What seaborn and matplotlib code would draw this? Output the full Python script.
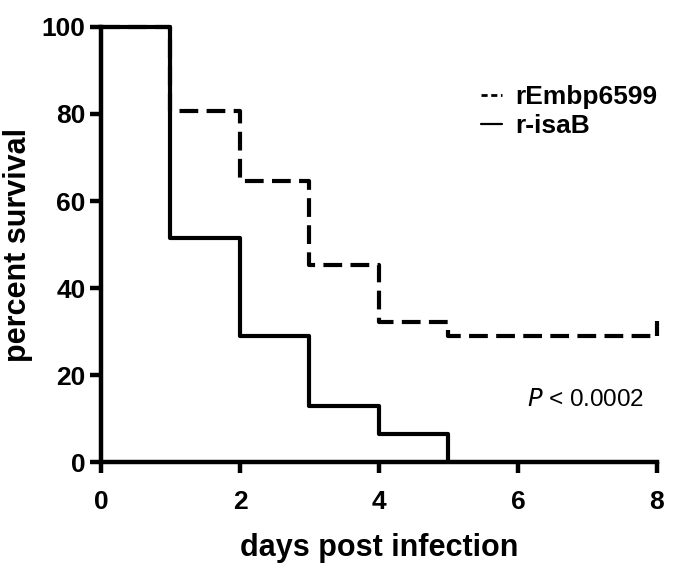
import matplotlib
matplotlib.use("Agg")
import matplotlib.pyplot as plt
from matplotlib.lines import Line2D
import seaborn as sns
import pandas as pd

# survival data (percent)
days_emb = [0, 1, 2, 3, 4, 5, 8]
surv_emb = [100, 80.6, 64.5, 45.2, 32.3, 29.0, 29.0]
days_isa = [0, 1, 2, 3, 4, 5]
surv_isa = [100, 51.6, 29.0, 12.9, 6.5, 0]
groups = ["rEmbp6599", "r-isaB"]
x_ticks = [0, 2, 4, 6, 8]
y_ticks = [0, 20, 40, 60, 80, 100]

df = pd.concat([
    pd.DataFrame({"day": days_emb, "survival": surv_emb, "group": groups[0]}),
    pd.DataFrame({"day": days_isa, "survival": surv_isa, "group": groups[1]}),
])

sns.set_style("white")
plt.rcParams["font.family"] = ["Liberation Sans", "DejaVu Sans"]
plt.rcParams.update({"text.color": "black", "axes.labelcolor": "black",
                     "xtick.color": "black", "ytick.color": "black"})

fig = plt.figure(figsize=(6.75, 5.74), dpi=100)
ax = fig.add_axes([0.1496, 0.195, 0.8237, 0.758])

sns.lineplot(data=df, x="day", y="survival", style="group", hue="group",
             palette={groups[0]: "black", groups[1]: "black"},
             dashes={groups[0]: (4.5, 2.0), groups[1]: ""},
             estimator=None, sort=False, drawstyle="steps-post",
             linewidth=3.0, legend=False, ax=ax, clip_on=False, zorder=3)

# censor mark at end of dashed curve
ax.plot([days_emb[-1]], [surv_emb[-1]], marker=2, markersize=11,
        markeredgewidth=3.0, color="black", clip_on=False, zorder=4)

ax.set_xlim(0, 8)
ax.set_ylim(0, 100)
ax.set_xticks(x_ticks)
ax.set_yticks(y_ticks)
for s in ["top", "right"]:
    ax.spines[s].set_visible(False)
for s in ["left", "bottom"]:
    ax.spines[s].set_linewidth(3.2)
    ax.spines[s].set_color("black")
ax.tick_params(axis="both", direction="out", length=8, width=3.2,
               color="black", labelcolor="black", labelsize=19, pad=3,
               bottom=True, left=True)
ax.tick_params(axis="x", pad=12)
for lab in ax.get_xticklabels() + ax.get_yticklabels():
    lab.set_fontweight("bold")

ax.set_xlabel("days post infection", fontsize=22, fontweight="bold", labelpad=14)
ax.set_ylabel("percent survival", fontsize=22, fontweight="bold", labelpad=6)

handles = [Line2D([], [], color="black", lw=2.0, dashes=(2.2, 1.3)),
           Line2D([], [], color="black", lw=1.6)]
ax.legend(handles, groups, loc="upper left", bbox_to_anchor=(0.66, 0.897),
          frameon=False, handlelength=0.8, handletextpad=0.5, borderpad=0,
          labelspacing=0.2, prop={"weight": "bold", "size": 19})

ax.text(6.13, 14.3, "$\\it{P}$ < 0.0002", fontsize=17.5, va="center", ha="left")

fig.savefig("out.png", dpi=100)
